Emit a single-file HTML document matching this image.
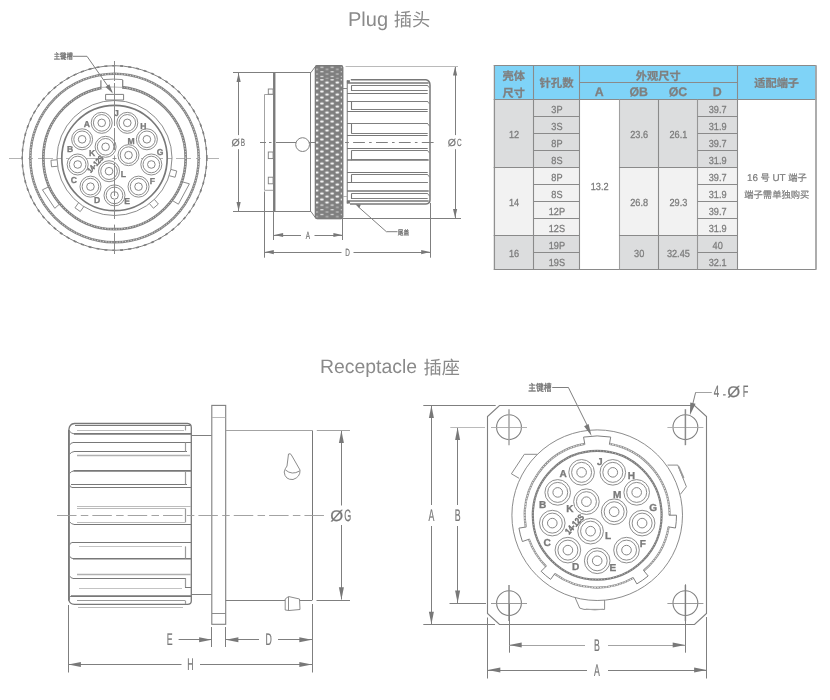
<!DOCTYPE html>
<html lang="zh-CN">
<head>
<meta charset="utf-8">
<title>Plug 插头 / Receptacle 插座</title>
<style>
html,body{margin:0;padding:0;background:#fff;}
body{width:830px;height:700px;overflow:hidden;position:relative;font-family:"Liberation Sans","Noto Sans CJK SC",sans-serif;}
svg{position:absolute;left:0;top:0;display:block;will-change:transform;}
svg text{font-family:"Liberation Sans","Noto Sans CJK SC",sans-serif;text-rendering:geometricPrecision;}
</style>
</head>
<body>
<svg width="830" height="700" viewBox="0 0 830 700">
<defs>
<pattern id="knurl" x="315.4" y="65.7" width="10.3" height="6" patternUnits="userSpaceOnUse">
<rect width="10.3" height="6" fill="#7f7f7f"/>
<ellipse cx="6.5" cy="1.7" rx="1.9" ry="0.95" fill="#fff"/>
<ellipse cx="1.35" cy="4.7" rx="1.9" ry="0.95" fill="#fff"/>
<ellipse cx="11.65" cy="4.7" rx="1.9" ry="0.95" fill="#fff"/>
</pattern>
<pattern id="knurl2" x="315.4" y="65.7" width="10.3" height="4.6" patternUnits="userSpaceOnUse">
<rect width="10.3" height="4.6" fill="#7f7f7f"/>
<rect x="5" y="1.1" width="3" height="0.9" fill="#fff"/>
<rect x="0.2" y="3.3" width="2.4" height="0.8" fill="#e8e8e8"/>
<rect x="10.1" y="3.3" width="0.2" height="0.8" fill="#e8e8e8"/>
</pattern>
</defs>
<text x="348" y="25.6" font-size="20" fill="#8a8a8a" font-weight="normal" text-anchor="start" >Plug</text>
<text x="393.8" y="26" font-size="18.2" fill="#8a8a8a" font-weight="normal" text-anchor="start" font-family='"Liberation Sans","Noto Sans CJK SC",sans-serif' >插头</text>
<text x="320" y="372.9" font-size="19.4" fill="#8a8a8a" font-weight="normal" text-anchor="start" >Receptacle</text>
<text x="423.6" y="373.6" font-size="18.2" fill="#8a8a8a" font-weight="normal" text-anchor="start" font-family='"Liberation Sans","Noto Sans CJK SC",sans-serif' >插座</text>
<line x1="9" y1="158.5" x2="21.5" y2="158.5" stroke="#a0a0a0" stroke-width="0.8"/>
<line x1="28.3" y1="158.5" x2="33" y2="158.5" stroke="#a0a0a0" stroke-width="0.8"/>
<line x1="38" y1="158.5" x2="53" y2="158.5" stroke="#a0a0a0" stroke-width="0.8"/>
<line x1="57" y1="158.5" x2="62" y2="158.5" stroke="#a0a0a0" stroke-width="0.8"/>
<line x1="66" y1="158.5" x2="103" y2="158.5" stroke="#a0a0a0" stroke-width="0.8"/>
<line x1="118" y1="158.5" x2="137" y2="158.5" stroke="#a0a0a0" stroke-width="0.8"/>
<line x1="141" y1="158.5" x2="163" y2="158.5" stroke="#a0a0a0" stroke-width="0.8"/>
<line x1="167" y1="158.5" x2="172" y2="158.5" stroke="#a0a0a0" stroke-width="0.8"/>
<line x1="176" y1="158.5" x2="191" y2="158.5" stroke="#a0a0a0" stroke-width="0.8"/>
<line x1="196" y1="158.5" x2="200.5" y2="158.5" stroke="#a0a0a0" stroke-width="0.8"/>
<line x1="207.5" y1="158.5" x2="219" y2="158.5" stroke="#a0a0a0" stroke-width="0.8"/>
<circle cx="114.5" cy="158" r="92.3" fill="none" stroke="#7f7f7f" stroke-width="1"/>
<circle cx="114.5" cy="158" r="92.3" fill="none" stroke="#7f7f7f" stroke-width="1.6" stroke-dasharray="3 5"/>
<circle cx="114.5" cy="158" r="84.2" fill="none" stroke="#848484" stroke-width="2.5"/>
<circle cx="114.5" cy="158" r="84.2" fill="none" stroke="#fff" stroke-width="0.8" stroke-dasharray="1.1 1.7"/>
<circle cx="114.5" cy="158" r="71.2" fill="none" stroke="#808080" stroke-width="2.7"/>
<circle cx="114.5" cy="158" r="71.2" fill="none" stroke="#fff" stroke-width="0.8" stroke-dasharray="1.1 1.7"/>
<circle cx="114.5" cy="158" r="57.5" fill="none" stroke="#7f7f7f" stroke-width="0.9"/>
<circle cx="114.5" cy="158" r="52.7" fill="none" stroke="#787878" stroke-width="1.7"/>
<rect x="101.4" y="79" width="20.8" height="10.5" fill="#fff"/>
<path d="M99.5 88.2 L100.9 88.2 L100.9 80.3 M122.7 80 L122.7 88 L125.5 88.2" fill="none" stroke="#7f7f7f" stroke-width="1.2" />
<path d="M103.4 79.6 Q114 78.6 122.7 79.6" fill="none" stroke="#7f7f7f" stroke-width="0.9" />
<path d="M101 87.4 Q114 86.6 122.7 87.4" fill="none" stroke="#a8a8a8" stroke-width="0.8" />
<path d="M105.6 100 L105.6 94.4 L123.6 94.4 L123.6 100 Z" fill="none" stroke="#7f7f7f" stroke-width="1" />
<path d="M48.8 186.8 L42.4 189.8 L54.8 208.3 L59.6 204" fill="none" stroke="#7f7f7f" stroke-width="0.9" />
<path d="M180.7 181.4 L189.4 183.8 L178.4 204.2 L172 200.3" fill="none" stroke="#7f7f7f" stroke-width="0.9" />
<path d="M56.94 159.77 L50.96 160.3 L51.52 166.77 L57.5 166.25" fill="none" stroke="#7f7f7f" stroke-width="0.9" />
<path d="M78.46 202.92 L74.98 207.81 L80.27 211.58 L83.76 206.7" fill="none" stroke="#7f7f7f" stroke-width="0.9" />
<path d="M169.29 175.73 L175.1 177.26 L176.75 170.97 L170.94 169.45" fill="none" stroke="#7f7f7f" stroke-width="0.9" />
<path d="M149.53 203.71 L153.44 208.26 L158.37 204.02 L154.46 199.47" fill="none" stroke="#7f7f7f" stroke-width="0.9" />
<circle cx="114.5" cy="195.4" r="10.5" fill="#fff" stroke="#808080" stroke-width="0.9"/>
<circle cx="114.5" cy="195.4" r="8.3" fill="none" stroke="#808080" stroke-width="0.9"/>
<circle cx="114.5" cy="195.4" r="3.8" fill="none" stroke="#808080" stroke-width="0.95"/>
<circle cx="90.46" cy="186.65" r="10.5" fill="#fff" stroke="#808080" stroke-width="0.9"/>
<circle cx="90.46" cy="186.65" r="8.3" fill="none" stroke="#808080" stroke-width="0.9"/>
<circle cx="90.46" cy="186.65" r="3.8" fill="none" stroke="#808080" stroke-width="0.95"/>
<circle cx="77.67" cy="164.49" r="10.5" fill="#fff" stroke="#808080" stroke-width="0.9"/>
<circle cx="77.67" cy="164.49" r="8.3" fill="none" stroke="#808080" stroke-width="0.9"/>
<circle cx="77.67" cy="164.49" r="3.8" fill="none" stroke="#808080" stroke-width="0.95"/>
<circle cx="82.11" cy="139.3" r="10.5" fill="#fff" stroke="#808080" stroke-width="0.9"/>
<circle cx="82.11" cy="139.3" r="8.3" fill="none" stroke="#808080" stroke-width="0.9"/>
<circle cx="82.11" cy="139.3" r="3.8" fill="none" stroke="#808080" stroke-width="0.95"/>
<circle cx="101.71" cy="122.86" r="10.5" fill="#fff" stroke="#808080" stroke-width="0.9"/>
<circle cx="101.71" cy="122.86" r="8.3" fill="none" stroke="#808080" stroke-width="0.9"/>
<circle cx="101.71" cy="122.86" r="3.8" fill="none" stroke="#808080" stroke-width="0.95"/>
<circle cx="127.29" cy="122.86" r="10.5" fill="#fff" stroke="#808080" stroke-width="0.9"/>
<circle cx="127.29" cy="122.86" r="8.3" fill="none" stroke="#808080" stroke-width="0.9"/>
<circle cx="127.29" cy="122.86" r="3.8" fill="none" stroke="#808080" stroke-width="0.95"/>
<circle cx="146.89" cy="139.3" r="10.5" fill="#fff" stroke="#808080" stroke-width="0.9"/>
<circle cx="146.89" cy="139.3" r="8.3" fill="none" stroke="#808080" stroke-width="0.9"/>
<circle cx="146.89" cy="139.3" r="3.8" fill="none" stroke="#808080" stroke-width="0.95"/>
<circle cx="151.33" cy="164.49" r="10.5" fill="#fff" stroke="#808080" stroke-width="0.9"/>
<circle cx="151.33" cy="164.49" r="8.3" fill="none" stroke="#808080" stroke-width="0.9"/>
<circle cx="151.33" cy="164.49" r="3.8" fill="none" stroke="#808080" stroke-width="0.95"/>
<circle cx="138.54" cy="186.65" r="10.5" fill="#fff" stroke="#808080" stroke-width="0.9"/>
<circle cx="138.54" cy="186.65" r="8.3" fill="none" stroke="#808080" stroke-width="0.9"/>
<circle cx="138.54" cy="186.65" r="3.8" fill="none" stroke="#808080" stroke-width="0.95"/>
<circle cx="109.03" cy="171.21" r="10.5" fill="#fff" stroke="#808080" stroke-width="0.9"/>
<circle cx="109.03" cy="171.21" r="8.3" fill="none" stroke="#808080" stroke-width="0.9"/>
<circle cx="109.03" cy="171.21" r="3.8" fill="none" stroke="#808080" stroke-width="0.95"/>
<circle cx="105.6" cy="146.81" r="10.5" fill="#fff" stroke="#808080" stroke-width="0.9"/>
<circle cx="105.6" cy="146.81" r="8.3" fill="none" stroke="#808080" stroke-width="0.9"/>
<circle cx="105.6" cy="146.81" r="3.8" fill="none" stroke="#808080" stroke-width="0.95"/>
<circle cx="128.51" cy="155.15" r="10.5" fill="#fff" stroke="#808080" stroke-width="0.9"/>
<circle cx="128.51" cy="155.15" r="8.3" fill="none" stroke="#808080" stroke-width="0.9"/>
<circle cx="128.51" cy="155.15" r="3.8" fill="none" stroke="#808080" stroke-width="0.95"/>
<text x="86.9" y="126.6" font-size="8.6" fill="#7a7a7a" font-weight="bold" text-anchor="middle" stroke="#7a7a7a" stroke-width="0.3">A</text>
<text x="116.3" y="115.9" font-size="8.6" fill="#7a7a7a" font-weight="bold" text-anchor="middle" stroke="#7a7a7a" stroke-width="0.3">J</text>
<text x="143.3" y="128.5" font-size="8.6" fill="#7a7a7a" font-weight="bold" text-anchor="middle" stroke="#7a7a7a" stroke-width="0.3">H</text>
<text x="131" y="143.9" font-size="8.6" fill="#7a7a7a" font-weight="bold" text-anchor="middle" stroke="#7a7a7a" stroke-width="0.3">M</text>
<text x="160.2" y="154.7" font-size="8.6" fill="#7a7a7a" font-weight="bold" text-anchor="middle" stroke="#7a7a7a" stroke-width="0.3">G</text>
<text x="92.1" y="155.5" font-size="8.6" fill="#7a7a7a" font-weight="bold" text-anchor="middle" stroke="#7a7a7a" stroke-width="0.3">K</text>
<text x="123.3" y="177.4" font-size="8.6" fill="#7a7a7a" font-weight="bold" text-anchor="middle" stroke="#7a7a7a" stroke-width="0.3">L</text>
<text x="152.3" y="183.8" font-size="8.6" fill="#7a7a7a" font-weight="bold" text-anchor="middle" stroke="#7a7a7a" stroke-width="0.3">F</text>
<text x="127.2" y="203.7" font-size="8.6" fill="#7a7a7a" font-weight="bold" text-anchor="middle" stroke="#7a7a7a" stroke-width="0.3">E</text>
<text x="97.2" y="203.1" font-size="8.6" fill="#7a7a7a" font-weight="bold" text-anchor="middle" stroke="#7a7a7a" stroke-width="0.3">D</text>
<text x="73.9" y="182.5" font-size="8.6" fill="#7a7a7a" font-weight="bold" text-anchor="middle" stroke="#7a7a7a" stroke-width="0.3">C</text>
<text x="70" y="151.9" font-size="8.6" fill="#7a7a7a" font-weight="bold" text-anchor="middle" stroke="#7a7a7a" stroke-width="0.3">B</text>
<text x="0" y="0" transform="translate(95.9 164.4) rotate(-48) scale(0.8 1)" font-size="7.74" fill="#707070" font-weight="bold" text-anchor="middle" dominant-baseline="middle" stroke="#707070" stroke-width="0.4">14-12S</text>
<line x1="114.5" y1="61" x2="114.5" y2="81" stroke="#8a8a8a" stroke-width="1"/>
<line x1="114.5" y1="83" x2="114.5" y2="126" stroke="#8a8a8a" stroke-width="1"/>
<line x1="114.5" y1="128" x2="114.5" y2="150" stroke="#8a8a8a" stroke-width="1"/>
<line x1="114.5" y1="163" x2="114.5" y2="196" stroke="#8a8a8a" stroke-width="1"/>
<line x1="114.5" y1="200" x2="114.5" y2="219" stroke="#8a8a8a" stroke-width="1"/>
<line x1="114.5" y1="224.6" x2="114.5" y2="228.6" stroke="#8a8a8a" stroke-width="1"/>
<line x1="114.5" y1="233" x2="114.5" y2="254" stroke="#8a8a8a" stroke-width="1"/>
<line x1="112.5" y1="158.5" x2="116.5" y2="158.5" stroke="#7f7f7f" stroke-width="0.8"/>
<line x1="114.5" y1="155.5" x2="114.5" y2="160.5" stroke="#7f7f7f" stroke-width="0.8"/>
<text x="0" y="0" transform="translate(53.8 59.4) scale(0.79 1)" font-size="8" fill="#707070" font-weight="normal" text-anchor="start" stroke="#707070" stroke-width="0.3">主键槽</text>
<path d="M73 56.3 L87 56.3 L112 92" fill="none" stroke="#7f7f7f" stroke-width="1" />
<polygon points="112.9,93.4 105.49,86.99 109.42,84.24" fill="#787878"/>
<line x1="233" y1="72.5" x2="311" y2="72.5" stroke="#7f7f7f" stroke-width="1"/>
<line x1="233" y1="211.5" x2="274" y2="211.5" stroke="#7f7f7f" stroke-width="1"/>
<line x1="238.5" y1="73" x2="238.5" y2="135.1" stroke="#7f7f7f" stroke-width="1"/>
<line x1="238.5" y1="149.2" x2="238.5" y2="211" stroke="#7f7f7f" stroke-width="1"/>
<polygon points="238.6,72.9 240.7,81.9 236.5,81.9" fill="#787878"/>
<polygon points="238.6,211.1 236.5,202.1 240.7,202.1" fill="#787878"/>
<line x1="274.25" y1="72.7" x2="274.25" y2="211.3" stroke="#7b7b7b" stroke-width="2.4"/>
<line x1="274" y1="72.5" x2="311" y2="72.5" stroke="#7f7f7f" stroke-width="1"/>
<line x1="274" y1="211.5" x2="311" y2="211.5" stroke="#7f7f7f" stroke-width="1"/>
<line x1="310.5" y1="72.7" x2="310.5" y2="211.3" stroke="#7f7f7f" stroke-width="1"/>
<path d="M310.8 72.7 L315.6 66.2 M310.8 211.3 L315.6 218" fill="none" stroke="#7f7f7f" stroke-width="1" />
<path d="M273 94.5 L264.5 94.5 L264.5 190.3 L273 190.3" fill="none" stroke="#999" stroke-width="0.9" />
<rect x="268.3" y="89" width="4.8" height="5.2" fill="#fff" stroke="#7f7f7f" stroke-width="0.9"/>
<rect x="268.3" y="152" width="4.8" height="6.6" fill="#fff" stroke="#7f7f7f" stroke-width="0.9"/>
<rect x="268.3" y="177.2" width="4.8" height="6.6" fill="#fff" stroke="#7f7f7f" stroke-width="0.9"/>
<circle cx="302.6" cy="144.6" r="6.9" fill="#fff" stroke="#7f7f7f" stroke-width="1"/>
<rect x="315.4" y="65.7" width="27.3" height="152.9" rx="1.5" fill="url(#knurl)" stroke="#7e7e7e" stroke-width="1"/>
<rect x="316" y="66.2" width="26.2" height="13" fill="url(#knurl2)"/>
<rect x="316" y="204.8" width="26.2" height="13.3" fill="url(#knurl2)"/>
<rect x="315.4" y="65.7" width="27.3" height="152.9" rx="1.5" fill="none" stroke="#7b7b7b" stroke-width="1.2"/>
<rect x="347" y="80" width="83.4" height="124" rx="3" fill="#fff"/>
<path d="M350.8 79.8 L426 79.8 Q430 80.5 430 85 L430 200 Q430 203.6 426 204 L350 204" fill="none" stroke="#787878" stroke-width="1.5" />
<line x1="347.3" y1="80.5" x2="347.3" y2="203.5" stroke="#979797" stroke-width="1.3"/>
<rect x="346.9" y="80.2" width="3" height="2.6" fill="#787878"/>
<rect x="346.9" y="201" width="3" height="2.6" fill="#787878"/>
<line x1="347" y1="83" x2="428.7" y2="83" stroke="#787878" stroke-width="1.5"/>
<line x1="347" y1="93.5" x2="427.7" y2="93.5" stroke="#787878" stroke-width="1.1"/>
<line x1="347" y1="101.5" x2="427.7" y2="101.5" stroke="#787878" stroke-width="1.1"/>
<line x1="347" y1="111.5" x2="427.7" y2="111.5" stroke="#787878" stroke-width="1.2"/>
<line x1="347" y1="123.5" x2="427.7" y2="123.5" stroke="#787878" stroke-width="1.2"/>
<line x1="347" y1="135.5" x2="427.7" y2="135.5" stroke="#787878" stroke-width="1.1"/>
<line x1="347" y1="148.5" x2="427.7" y2="148.5" stroke="#787878" stroke-width="1.1"/>
<line x1="347" y1="159.9" x2="428.7" y2="159.9" stroke="#787878" stroke-width="1.5"/>
<line x1="347" y1="172.5" x2="427.7" y2="172.5" stroke="#787878" stroke-width="1.1"/>
<line x1="347" y1="182.5" x2="427.7" y2="182.5" stroke="#787878" stroke-width="1.1"/>
<line x1="347" y1="191" x2="428.7" y2="191" stroke="#787878" stroke-width="1.5"/>
<line x1="347" y1="201" x2="428.7" y2="201" stroke="#787878" stroke-width="1.5"/>
<line x1="351.4" y1="85.5" x2="427.7" y2="85.5" stroke="#7f7f7f" stroke-width="1"/>
<line x1="351.4" y1="90.5" x2="427.7" y2="90.5" stroke="#7f7f7f" stroke-width="1"/>
<line x1="351.5" y1="85.4" x2="351.5" y2="90.9" stroke="#787878" stroke-width="1.1"/>
<path d="M427.2 85.5 Q429.2 86.2 429.4 88" fill="none" stroke="#7f7f7f" stroke-width="0.9" />
<line x1="351.4" y1="101.5" x2="427.7" y2="101.5" stroke="#7f7f7f" stroke-width="1"/>
<line x1="351.4" y1="109.5" x2="427.7" y2="109.5" stroke="#7f7f7f" stroke-width="1"/>
<line x1="351.5" y1="101.4" x2="351.5" y2="109.9" stroke="#787878" stroke-width="1.1"/>
<path d="M427.2 101.5 Q429.2 102.2 429.4 104" fill="none" stroke="#7f7f7f" stroke-width="0.9" />
<line x1="351.4" y1="123.5" x2="427.7" y2="123.5" stroke="#7f7f7f" stroke-width="1"/>
<line x1="351.4" y1="133.5" x2="427.7" y2="133.5" stroke="#7f7f7f" stroke-width="1"/>
<line x1="351.5" y1="123.7" x2="351.5" y2="133.6" stroke="#787878" stroke-width="1.1"/>
<path d="M427.2 123.5 Q429.2 124.5 429.4 126.3" fill="none" stroke="#7f7f7f" stroke-width="0.9" />
<line x1="351.4" y1="150.5" x2="427.7" y2="150.5" stroke="#7f7f7f" stroke-width="1"/>
<line x1="351.4" y1="159.5" x2="427.7" y2="159.5" stroke="#7f7f7f" stroke-width="1"/>
<line x1="351.5" y1="150.6" x2="351.5" y2="160.2" stroke="#787878" stroke-width="1.1"/>
<path d="M427.2 150.5 Q429.2 151.4 429.4 153.2" fill="none" stroke="#7f7f7f" stroke-width="0.9" />
<line x1="351.4" y1="174.5" x2="427.7" y2="174.5" stroke="#7f7f7f" stroke-width="1"/>
<line x1="351.4" y1="182.5" x2="427.7" y2="182.5" stroke="#7f7f7f" stroke-width="1"/>
<line x1="351.5" y1="174.6" x2="351.5" y2="183" stroke="#787878" stroke-width="1.1"/>
<path d="M427.2 174.5 Q429.2 175.4 429.4 177.2" fill="none" stroke="#7f7f7f" stroke-width="0.9" />
<line x1="351.4" y1="193.5" x2="427.7" y2="193.5" stroke="#7f7f7f" stroke-width="1"/>
<line x1="351.4" y1="198.5" x2="427.7" y2="198.5" stroke="#7f7f7f" stroke-width="1"/>
<line x1="351.5" y1="193.6" x2="351.5" y2="199" stroke="#787878" stroke-width="1.1"/>
<path d="M427.2 193.5 Q429.2 194.4 429.4 196.2" fill="none" stroke="#7f7f7f" stroke-width="0.9" />
<line x1="342.9" y1="88.5" x2="347" y2="88.5" stroke="#7f7f7f" stroke-width="0.9"/>
<line x1="342.9" y1="196.5" x2="347" y2="196.5" stroke="#a8a8a8" stroke-width="0.8"/>
<line x1="260" y1="142.5" x2="266" y2="142.5" stroke="#7f7f7f" stroke-width="1"/>
<line x1="269" y1="142.5" x2="271.5" y2="142.5" stroke="#7f7f7f" stroke-width="1"/>
<line x1="276" y1="142.5" x2="296" y2="142.5" stroke="#7f7f7f" stroke-width="1"/>
<line x1="309" y1="142.5" x2="315" y2="142.5" stroke="#7f7f7f" stroke-width="1"/>
<line x1="345.1" y1="142.5" x2="348.9" y2="142.5" stroke="#7f7f7f" stroke-width="1"/>
<line x1="353.1" y1="142.5" x2="435" y2="142.5" stroke="#7f7f7f" stroke-width="1" stroke-dasharray="11.8 4.2 2.6 4.3"/>
<line x1="345.6" y1="66.5" x2="458" y2="66.5" stroke="#a8a8a8" stroke-width="0.8"/>
<line x1="342" y1="218.5" x2="461" y2="218.5" stroke="#7f7f7f" stroke-width="1"/>
<line x1="455.5" y1="67" x2="455.5" y2="135.1" stroke="#7f7f7f" stroke-width="1"/>
<line x1="455.5" y1="149.2" x2="455.5" y2="218" stroke="#7f7f7f" stroke-width="1"/>
<polygon points="455.1,66.5 457.2,75.5 453,75.5" fill="#787878"/>
<polygon points="455.1,218.1 453,209.1 457.2,209.1" fill="#787878"/>
<line x1="273.5" y1="212" x2="273.5" y2="240" stroke="#7f7f7f" stroke-width="1"/>
<line x1="342.5" y1="219" x2="342.5" y2="240" stroke="#7f7f7f" stroke-width="1"/>
<line x1="274" y1="235.5" x2="301" y2="235.5" stroke="#7f7f7f" stroke-width="1"/>
<line x1="314.5" y1="235.5" x2="342.6" y2="235.5" stroke="#7f7f7f" stroke-width="1"/>
<polygon points="274.1,235 283.1,232.9 283.1,237.1" fill="#787878"/>
<polygon points="342.4,235 333.4,237.1 333.4,232.9" fill="#787878"/>
<line x1="264.5" y1="191.5" x2="264.5" y2="257.7" stroke="#7f7f7f" stroke-width="1"/>
<line x1="430.5" y1="203" x2="430.5" y2="257.7" stroke="#7f7f7f" stroke-width="1"/>
<line x1="264.6" y1="252.5" x2="341.5" y2="252.5" stroke="#7f7f7f" stroke-width="1"/>
<line x1="353.5" y1="252.5" x2="430.4" y2="252.5" stroke="#7f7f7f" stroke-width="1"/>
<polygon points="264.8,252.1 273.8,250 273.8,254.2" fill="#787878"/>
<polygon points="430.2,252.1 421.2,254.2 421.2,250" fill="#787878"/>
<text x="0" y="0" transform="translate(308 238.8) scale(0.62 1)" font-size="10.4" fill="#787878" font-weight="normal" text-anchor="middle" stroke="#787878" stroke-width="0.22">A</text>
<text x="0" y="0" transform="translate(347.5 255.8) scale(0.62 1)" font-size="10.4" fill="#787878" font-weight="normal" text-anchor="middle" stroke="#787878" stroke-width="0.22">D</text>
<text x="0" y="0" transform="translate(235.63 145.9) scale(1.05 1)" font-size="10.09" fill="#787878" font-weight="normal" text-anchor="middle" stroke="#787878" stroke-width="0.22">Ø</text>
<text x="0" y="0" transform="translate(242.94 146) scale(0.62 1)" font-size="10.4" fill="#787878" font-weight="normal" text-anchor="middle" stroke="#787878" stroke-width="0.22">B</text>
<text x="0" y="0" transform="translate(451.93 145.9) scale(1.05 1)" font-size="10.09" fill="#787878" font-weight="normal" text-anchor="middle" stroke="#787878" stroke-width="0.22">Ø</text>
<text x="0" y="0" transform="translate(459.24 146) scale(0.62 1)" font-size="10.4" fill="#787878" font-weight="normal" text-anchor="middle" stroke="#787878" stroke-width="0.22">C</text>
<path d="M358.5 207 L386.4 231.7 L397.5 231.7" fill="none" stroke="#7f7f7f" stroke-width="1" />
<polygon points="355.3,204.3 360.8,204.6 359.3,208.3" fill="#787878"/>
<text x="0" y="0" transform="translate(397.8 234.6) scale(0.8 1)" font-size="7" fill="#707070" font-weight="normal" text-anchor="start" stroke="#707070" stroke-width="0.3">尾盖</text>
<rect x="494" y="65.4" width="322.3" height="34" fill="#7fd3f7"/>
<rect x="494" y="99.4" width="85.5" height="68" fill="#dcddde"/>
<rect x="619" y="99.4" width="118" height="68" fill="#dcddde"/>
<rect x="494" y="167.4" width="85.5" height="68" fill="#f2f2f2"/>
<rect x="619" y="167.4" width="118" height="68" fill="#f2f2f2"/>
<rect x="494" y="235.4" width="85.5" height="34" fill="#dcddde"/>
<rect x="619" y="235.4" width="118" height="34" fill="#dcddde"/>
<line x1="493.7" y1="65.5" x2="816.3" y2="65.5" stroke="#8a8a8a" stroke-width="1.1"/>
<line x1="493.7" y1="99.5" x2="816.3" y2="99.5" stroke="#8a8a8a" stroke-width="1.1"/>
<line x1="493.7" y1="269.5" x2="816.3" y2="269.5" stroke="#8a8a8a" stroke-width="1.1"/>
<line x1="579.5" y1="82.5" x2="737" y2="82.5" stroke="#8a8a8a" stroke-width="1.1"/>
<line x1="533.5" y1="65.4" x2="533.5" y2="269.4" stroke="#8a8a8a" stroke-width="1.1"/>
<line x1="579.5" y1="65.4" x2="579.5" y2="269.4" stroke="#8a8a8a" stroke-width="1.1"/>
<line x1="737.5" y1="65.4" x2="737.5" y2="269.4" stroke="#8a8a8a" stroke-width="1.1"/>
<line x1="494.4" y1="65.4" x2="494.4" y2="269.4" stroke="#909090" stroke-width="1.3"/>
<line x1="816" y1="65.4" x2="816" y2="269.4" stroke="#a4a4a4" stroke-width="1.8"/>
<line x1="619.5" y1="99.4" x2="619.5" y2="269.4" stroke="#a0a0a0" stroke-width="1.1"/>
<line x1="658.5" y1="99.4" x2="658.5" y2="269.4" stroke="#8a8a8a" stroke-width="1.1"/>
<line x1="697.5" y1="99.4" x2="697.5" y2="269.4" stroke="#969696" stroke-width="1.1"/>
<line x1="533.5" y1="116.5" x2="579.5" y2="116.5" stroke="#8a8a8a" stroke-width="1.1"/>
<line x1="697.5" y1="116.5" x2="737" y2="116.5" stroke="#8a8a8a" stroke-width="1.1"/>
<line x1="533.5" y1="133.5" x2="579.5" y2="133.5" stroke="#8a8a8a" stroke-width="1.1"/>
<line x1="697.5" y1="133.5" x2="737" y2="133.5" stroke="#8a8a8a" stroke-width="1.1"/>
<line x1="533.5" y1="150.5" x2="579.5" y2="150.5" stroke="#8a8a8a" stroke-width="1.1"/>
<line x1="697.5" y1="150.5" x2="737" y2="150.5" stroke="#8a8a8a" stroke-width="1.1"/>
<line x1="533.5" y1="167.5" x2="579.5" y2="167.5" stroke="#8a8a8a" stroke-width="1.1"/>
<line x1="697.5" y1="167.5" x2="737" y2="167.5" stroke="#8a8a8a" stroke-width="1.1"/>
<line x1="533.5" y1="184.5" x2="579.5" y2="184.5" stroke="#8a8a8a" stroke-width="1.1"/>
<line x1="697.5" y1="184.5" x2="737" y2="184.5" stroke="#8a8a8a" stroke-width="1.1"/>
<line x1="533.5" y1="201.5" x2="579.5" y2="201.5" stroke="#8a8a8a" stroke-width="1.1"/>
<line x1="697.5" y1="201.5" x2="737" y2="201.5" stroke="#8a8a8a" stroke-width="1.1"/>
<line x1="533.5" y1="218.5" x2="579.5" y2="218.5" stroke="#8a8a8a" stroke-width="1.1"/>
<line x1="697.5" y1="218.5" x2="737" y2="218.5" stroke="#8a8a8a" stroke-width="1.1"/>
<line x1="533.5" y1="235.5" x2="579.5" y2="235.5" stroke="#8a8a8a" stroke-width="1.1"/>
<line x1="697.5" y1="235.5" x2="737" y2="235.5" stroke="#8a8a8a" stroke-width="1.1"/>
<line x1="533.5" y1="252.5" x2="579.5" y2="252.5" stroke="#8a8a8a" stroke-width="1.1"/>
<line x1="697.5" y1="252.5" x2="737" y2="252.5" stroke="#8a8a8a" stroke-width="1.1"/>
<line x1="493.7" y1="167.5" x2="533.5" y2="167.5" stroke="#8a8a8a" stroke-width="1.1"/>
<line x1="619" y1="167.5" x2="697.5" y2="167.5" stroke="#8a8a8a" stroke-width="1.1"/>
<line x1="493.7" y1="235.5" x2="533.5" y2="235.5" stroke="#8a8a8a" stroke-width="1.1"/>
<line x1="619" y1="235.5" x2="697.5" y2="235.5" stroke="#8a8a8a" stroke-width="1.1"/>
<text x="513.8" y="79.8" font-size="11.2" fill="#7f7f7f" font-weight="bold" text-anchor="middle" stroke="#7f7f7f" stroke-width="0.25">壳体</text>
<text x="513.8" y="96.6" font-size="11.2" fill="#7f7f7f" font-weight="bold" text-anchor="middle" stroke="#7f7f7f" stroke-width="0.25">尺寸</text>
<text x="556.5" y="87.3" font-size="11.4" fill="#7f7f7f" font-weight="bold" text-anchor="middle" stroke="#7f7f7f" stroke-width="0.25">针孔数</text>
<text x="658.25" y="79.6" font-size="11.2" fill="#7f7f7f" font-weight="bold" text-anchor="middle" stroke="#7f7f7f" stroke-width="0.25">外观尺寸</text>
<text x="599.25" y="96.2" font-size="12.4" fill="#7f7f7f" font-weight="bold" text-anchor="middle" stroke="#7f7f7f" stroke-width="0.25">A</text>
<text x="638.75" y="96.2" font-size="12.4" fill="#7f7f7f" font-weight="bold" text-anchor="middle" stroke="#7f7f7f" stroke-width="0.25">ØB</text>
<text x="678" y="96.2" font-size="12.4" fill="#7f7f7f" font-weight="bold" text-anchor="middle" stroke="#7f7f7f" stroke-width="0.25">ØC</text>
<text x="717.25" y="96.2" font-size="12.4" fill="#7f7f7f" font-weight="bold" text-anchor="middle" stroke="#7f7f7f" stroke-width="0.25">D</text>
<text x="776.65" y="87.3" font-size="11.2" fill="#7f7f7f" font-weight="bold" text-anchor="middle" stroke="#7f7f7f" stroke-width="0.25">适配端子</text>
<text x="0" y="0" transform="translate(556.9 112.95) scale(0.89 1)" font-size="10.3" fill="#7c7c7c" font-weight="normal" text-anchor="middle" stroke="#7c7c7c" stroke-width="0.28">3P</text>
<text x="0" y="0" transform="translate(717.65 112.95) scale(0.89 1)" font-size="10.3" fill="#7c7c7c" font-weight="normal" text-anchor="middle" stroke="#7c7c7c" stroke-width="0.28">39.7</text>
<text x="0" y="0" transform="translate(556.9 129.95) scale(0.89 1)" font-size="10.3" fill="#7c7c7c" font-weight="normal" text-anchor="middle" stroke="#7c7c7c" stroke-width="0.28">3S</text>
<text x="0" y="0" transform="translate(717.65 129.95) scale(0.89 1)" font-size="10.3" fill="#7c7c7c" font-weight="normal" text-anchor="middle" stroke="#7c7c7c" stroke-width="0.28">31.9</text>
<text x="0" y="0" transform="translate(556.9 146.95) scale(0.89 1)" font-size="10.3" fill="#7c7c7c" font-weight="normal" text-anchor="middle" stroke="#7c7c7c" stroke-width="0.28">8P</text>
<text x="0" y="0" transform="translate(717.65 146.95) scale(0.89 1)" font-size="10.3" fill="#7c7c7c" font-weight="normal" text-anchor="middle" stroke="#7c7c7c" stroke-width="0.28">39.7</text>
<text x="0" y="0" transform="translate(556.9 163.95) scale(0.89 1)" font-size="10.3" fill="#7c7c7c" font-weight="normal" text-anchor="middle" stroke="#7c7c7c" stroke-width="0.28">8S</text>
<text x="0" y="0" transform="translate(717.65 163.95) scale(0.89 1)" font-size="10.3" fill="#7c7c7c" font-weight="normal" text-anchor="middle" stroke="#7c7c7c" stroke-width="0.28">31.9</text>
<text x="0" y="0" transform="translate(556.9 180.95) scale(0.89 1)" font-size="10.3" fill="#7c7c7c" font-weight="normal" text-anchor="middle" stroke="#7c7c7c" stroke-width="0.28">8P</text>
<text x="0" y="0" transform="translate(717.65 180.95) scale(0.89 1)" font-size="10.3" fill="#7c7c7c" font-weight="normal" text-anchor="middle" stroke="#7c7c7c" stroke-width="0.28">39.7</text>
<text x="0" y="0" transform="translate(556.9 197.95) scale(0.89 1)" font-size="10.3" fill="#7c7c7c" font-weight="normal" text-anchor="middle" stroke="#7c7c7c" stroke-width="0.28">8S</text>
<text x="0" y="0" transform="translate(717.65 197.95) scale(0.89 1)" font-size="10.3" fill="#7c7c7c" font-weight="normal" text-anchor="middle" stroke="#7c7c7c" stroke-width="0.28">31.9</text>
<text x="0" y="0" transform="translate(556.9 214.95) scale(0.89 1)" font-size="10.3" fill="#7c7c7c" font-weight="normal" text-anchor="middle" stroke="#7c7c7c" stroke-width="0.28">12P</text>
<text x="0" y="0" transform="translate(717.65 214.95) scale(0.89 1)" font-size="10.3" fill="#7c7c7c" font-weight="normal" text-anchor="middle" stroke="#7c7c7c" stroke-width="0.28">39.7</text>
<text x="0" y="0" transform="translate(556.9 231.95) scale(0.89 1)" font-size="10.3" fill="#7c7c7c" font-weight="normal" text-anchor="middle" stroke="#7c7c7c" stroke-width="0.28">12S</text>
<text x="0" y="0" transform="translate(717.65 231.95) scale(0.89 1)" font-size="10.3" fill="#7c7c7c" font-weight="normal" text-anchor="middle" stroke="#7c7c7c" stroke-width="0.28">31.9</text>
<text x="0" y="0" transform="translate(556.9 248.95) scale(0.89 1)" font-size="10.3" fill="#7c7c7c" font-weight="normal" text-anchor="middle" stroke="#7c7c7c" stroke-width="0.28">19P</text>
<text x="0" y="0" transform="translate(717.65 248.95) scale(0.89 1)" font-size="10.3" fill="#7c7c7c" font-weight="normal" text-anchor="middle" stroke="#7c7c7c" stroke-width="0.28">40</text>
<text x="0" y="0" transform="translate(556.9 265.95) scale(0.89 1)" font-size="10.3" fill="#7c7c7c" font-weight="normal" text-anchor="middle" stroke="#7c7c7c" stroke-width="0.28">19S</text>
<text x="0" y="0" transform="translate(717.65 265.95) scale(0.89 1)" font-size="10.3" fill="#7c7c7c" font-weight="normal" text-anchor="middle" stroke="#7c7c7c" stroke-width="0.28">32.1</text>
<text x="0" y="0" transform="translate(514 138.45) scale(0.89 1)" font-size="10.3" fill="#7c7c7c" font-weight="normal" text-anchor="middle" stroke="#7c7c7c" stroke-width="0.28">12</text>
<text x="0" y="0" transform="translate(639.15 138.45) scale(0.89 1)" font-size="10.3" fill="#7c7c7c" font-weight="normal" text-anchor="middle" stroke="#7c7c7c" stroke-width="0.28">23.6</text>
<text x="0" y="0" transform="translate(678.4 138.45) scale(0.89 1)" font-size="10.3" fill="#7c7c7c" font-weight="normal" text-anchor="middle" stroke="#7c7c7c" stroke-width="0.28">26.1</text>
<text x="0" y="0" transform="translate(514 206.45) scale(0.89 1)" font-size="10.3" fill="#7c7c7c" font-weight="normal" text-anchor="middle" stroke="#7c7c7c" stroke-width="0.28">14</text>
<text x="0" y="0" transform="translate(639.15 206.45) scale(0.89 1)" font-size="10.3" fill="#7c7c7c" font-weight="normal" text-anchor="middle" stroke="#7c7c7c" stroke-width="0.28">26.8</text>
<text x="0" y="0" transform="translate(678.4 206.45) scale(0.89 1)" font-size="10.3" fill="#7c7c7c" font-weight="normal" text-anchor="middle" stroke="#7c7c7c" stroke-width="0.28">29.3</text>
<text x="0" y="0" transform="translate(514 257.45) scale(0.89 1)" font-size="10.3" fill="#7c7c7c" font-weight="normal" text-anchor="middle" stroke="#7c7c7c" stroke-width="0.28">16</text>
<text x="0" y="0" transform="translate(639.15 257.45) scale(0.89 1)" font-size="10.3" fill="#7c7c7c" font-weight="normal" text-anchor="middle" stroke="#7c7c7c" stroke-width="0.28">30</text>
<text x="0" y="0" transform="translate(678.4 257.45) scale(0.89 1)" font-size="10.3" fill="#7c7c7c" font-weight="normal" text-anchor="middle" stroke="#7c7c7c" stroke-width="0.28">32.45</text>
<text x="0" y="0" transform="translate(599.65 190.45) scale(0.89 1)" font-size="10.3" fill="#7c7c7c" font-weight="normal" text-anchor="middle" stroke="#7c7c7c" stroke-width="0.28">13.2</text>
<text x="776.9" y="181" font-size="9.3" fill="#7c7c7c" font-weight="normal" text-anchor="middle" stroke="#7c7c7c" stroke-width="0.2"><tspan font-size="9.9">16</tspan> 号 <tspan font-size="9.9">UT</tspan> 端子</text>
<text x="776.8" y="198" font-size="9.3" fill="#7c7c7c" font-weight="normal" text-anchor="middle" stroke="#7c7c7c" stroke-width="0.2">端子需单独购买</text>
<rect x="69" y="423.5" width="122.3" height="181" rx="4" fill="#fff"/>
<path d="M68.9 601 L68.9 429.5 Q69.3 424 74.5 423.5 L187.5 423.5 Q191.3 423.8 191.3 427.5 L191.3 601 Q191.2 604.3 187.5 604.4 L74.5 604.4 Q69.5 604 68.9 600" fill="none" stroke="#787878" stroke-width="1.3" />
<line x1="68.9" y1="430" x2="68.9" y2="600.5" stroke="#787878" stroke-width="1.7"/>
<line x1="75" y1="425.5" x2="190" y2="425.5" stroke="#787878" stroke-width="1.1"/>
<line x1="77" y1="430.5" x2="184" y2="430.5" stroke="#b4b4b4" stroke-width="0.9"/>
<line x1="74" y1="433.9" x2="191" y2="433.9" stroke="#787878" stroke-width="1.7"/>
<path d="M74.3 433.9 Q71.5 433.6 69.6 431.3" fill="none" stroke="#7f7f7f" stroke-width="1" />
<line x1="73" y1="442.5" x2="191" y2="442.5" stroke="#787878" stroke-width="1.1"/>
<path d="M73.3 442.5 Q70.5 442.8 69.6 445.1" fill="none" stroke="#7f7f7f" stroke-width="1" />
<line x1="74" y1="451.5" x2="187" y2="451.5" stroke="#787878" stroke-width="1.1"/>
<path d="M74.3 451.5 Q71.5 451.8 69.6 454.1" fill="none" stroke="#7f7f7f" stroke-width="1" />
<line x1="77" y1="455.5" x2="190" y2="455.5" stroke="#b0b0b0" stroke-width="1.3"/>
<line x1="73.6" y1="470.9" x2="191" y2="470.9" stroke="#787878" stroke-width="1.8"/>
<path d="M73.9 470.9 Q71.1 471.2 69.6 473.5" fill="none" stroke="#7f7f7f" stroke-width="1" />
<line x1="71" y1="484.5" x2="187" y2="484.5" stroke="#787878" stroke-width="1.1"/>
<line x1="72" y1="487.5" x2="191" y2="487.5" stroke="#787878" stroke-width="1.1"/>
<path d="M72.3 487.5 Q69.5 487.2 69.6 484.9" fill="none" stroke="#7f7f7f" stroke-width="1" />
<line x1="77" y1="506.5" x2="191" y2="506.5" stroke="#b4b4b4" stroke-width="0.9"/>
<line x1="77" y1="508.5" x2="185" y2="508.5" stroke="#b4b4b4" stroke-width="0.9"/>
<line x1="77" y1="522.5" x2="185" y2="522.5" stroke="#b4b4b4" stroke-width="0.9"/>
<line x1="74" y1="524.5" x2="191" y2="524.5" stroke="#787878" stroke-width="1.1"/>
<path d="M74.3 524.5 Q71.5 524.2 69.6 521.9" fill="none" stroke="#7f7f7f" stroke-width="1" />
<line x1="72" y1="542.5" x2="191" y2="542.5" stroke="#787878" stroke-width="1.2"/>
<path d="M72.3 542.5 Q69.5 542.8 69.6 545.1" fill="none" stroke="#7f7f7f" stroke-width="1" />
<line x1="79" y1="546.5" x2="182" y2="546.5" stroke="#b4b4b4" stroke-width="0.8"/>
<line x1="73" y1="558.7" x2="191" y2="558.7" stroke="#787878" stroke-width="1.6"/>
<path d="M73.3 558.7 Q70.5 558.4 69.6 556.1" fill="none" stroke="#7f7f7f" stroke-width="1" />
<line x1="77" y1="574.5" x2="191" y2="574.5" stroke="#b0b0b0" stroke-width="1.3"/>
<line x1="73" y1="578.5" x2="186" y2="578.5" stroke="#787878" stroke-width="1.1"/>
<path d="M73.3 578.5 Q70.5 578.2 69.6 575.9" fill="none" stroke="#7f7f7f" stroke-width="1" />
<line x1="79" y1="588.5" x2="182" y2="588.5" stroke="#b4b4b4" stroke-width="0.8"/>
<line x1="71" y1="596.1" x2="191" y2="596.1" stroke="#787878" stroke-width="1.7"/>
<path d="M71.3 596.1 Q68.5 596.4 69.6 598.7" fill="none" stroke="#7f7f7f" stroke-width="1" />
<line x1="77" y1="600.5" x2="185" y2="600.5" stroke="#999" stroke-width="1"/>
<line x1="78" y1="607.5" x2="183" y2="607.5" stroke="#b4b4b4" stroke-width="0.9"/>
<line x1="185.5" y1="425.6" x2="185.5" y2="430.4" stroke="#9a9a9a" stroke-width="1.2"/>
<line x1="185.5" y1="442.5" x2="185.5" y2="451.6" stroke="#9a9a9a" stroke-width="1.2"/>
<line x1="185.5" y1="471" x2="185.5" y2="484.4" stroke="#9a9a9a" stroke-width="1.2"/>
<line x1="185.5" y1="508.4" x2="185.5" y2="522.4" stroke="#9a9a9a" stroke-width="1.2"/>
<line x1="185.5" y1="546.4" x2="185.5" y2="558.5" stroke="#9a9a9a" stroke-width="1.2"/>
<line x1="185.5" y1="578.4" x2="185.5" y2="587.5" stroke="#9a9a9a" stroke-width="1.2"/>
<line x1="185.5" y1="600.5" x2="185.5" y2="604" stroke="#9a9a9a" stroke-width="1.2"/>
<line x1="185" y1="587.5" x2="191" y2="587.5" stroke="#787878" stroke-width="1"/>
<line x1="191.8" y1="435.5" x2="211.8" y2="435.5" stroke="#7f7f7f" stroke-width="1"/>
<line x1="191.8" y1="594.5" x2="211.8" y2="594.5" stroke="#7f7f7f" stroke-width="1"/>
<rect x="211.8" y="405.4" width="13.9" height="218.9" fill="#fff" stroke="#7f7f7f" stroke-width="1.1"/>
<line x1="212" y1="417.5" x2="225.5" y2="417.5" stroke="#a8a8a8" stroke-width="0.8"/>
<line x1="212" y1="613.5" x2="225.5" y2="613.5" stroke="#7f7f7f" stroke-width="0.9"/>
<line x1="225.7" y1="430.5" x2="312" y2="430.5" stroke="#999" stroke-width="0.9"/>
<line x1="225.7" y1="600.5" x2="312" y2="600.5" stroke="#7f7f7f" stroke-width="1"/>
<line x1="312.5" y1="430.4" x2="312.5" y2="600.3" stroke="#787878" stroke-width="1"/>
<line x1="312.5" y1="604" x2="312.5" y2="672.5" stroke="#7f7f7f" stroke-width="1"/>
<path d="M288.5 454 Q290.5 452.5 292 456 L300 470 Q300.5 477 293 479.5 Q285 480 284.2 472 Q285 468.5 287 466 Z" fill="#fff" stroke="#7f7f7f" stroke-width="0.9" />
<path d="M285.5 470 Q292 475.5 299.5 471" fill="none" stroke="#7f7f7f" stroke-width="0.9" />
<path d="M285.2 599 L288.5 596.5 L299.5 599 L300 609.5 L289 610.5 L285.2 610 Z" fill="#fff" stroke="#7f7f7f" stroke-width="0.9" />
<path d="M288.5 597 L288.5 610.3" fill="none" stroke="#7f7f7f" stroke-width="0.9" />
<line x1="57" y1="515.5" x2="324.3" y2="515.5" stroke="#999" stroke-width="0.9" stroke-dasharray="19.5 4.3 7.5 4.05"/>
<line x1="316.8" y1="430.5" x2="350" y2="430.5" stroke="#999" stroke-width="0.9"/>
<line x1="316.5" y1="600.5" x2="350" y2="600.5" stroke="#7f7f7f" stroke-width="1"/>
<line x1="341.5" y1="431" x2="341.5" y2="505.5" stroke="#7f7f7f" stroke-width="1"/>
<line x1="341.5" y1="525" x2="341.5" y2="599.5" stroke="#7f7f7f" stroke-width="1"/>
<polygon points="341.4,430.6 343.9,443.1 338.9,443.1" fill="#787878"/>
<polygon points="341.4,599.8 338.9,587.3 343.9,587.3" fill="#787878"/>
<text x="0" y="0" transform="translate(336.79 520.64) scale(1.08 1)" font-size="15.4" fill="#787878" font-weight="normal" text-anchor="middle" stroke="#787878" stroke-width="0.22">Ø</text>
<text x="0" y="0" transform="translate(347.87 520.8) scale(0.55 1)" font-size="16.4" fill="#787878" font-weight="normal" text-anchor="middle" stroke="#787878" stroke-width="0.22">G</text>
<line x1="68.5" y1="605" x2="68.5" y2="672.5" stroke="#7f7f7f" stroke-width="1"/>
<line x1="211.5" y1="627" x2="211.5" y2="647" stroke="#7f7f7f" stroke-width="1"/>
<line x1="225.5" y1="627" x2="225.5" y2="647" stroke="#7f7f7f" stroke-width="1"/>
<line x1="178.6" y1="639.5" x2="211.8" y2="639.5" stroke="#7f7f7f" stroke-width="1"/>
<polygon points="211.6,639.7 199.1,642.2 199.1,637.2" fill="#787878"/>
<line x1="225.7" y1="639.5" x2="259" y2="639.5" stroke="#7f7f7f" stroke-width="1"/>
<line x1="278" y1="639.5" x2="312" y2="639.5" stroke="#7f7f7f" stroke-width="1"/>
<polygon points="225.9,639.7 238.4,637.2 238.4,642.2" fill="#787878"/>
<polygon points="311.8,639.7 299.3,642.2 299.3,637.2" fill="#787878"/>
<line x1="68.2" y1="664.5" x2="181.5" y2="664.5" stroke="#7f7f7f" stroke-width="1"/>
<line x1="200" y1="664.5" x2="312" y2="664.5" stroke="#7f7f7f" stroke-width="1"/>
<polygon points="68.4,664.6 80.9,662.1 80.9,667.1" fill="#787878"/>
<polygon points="311.8,664.6 299.3,667.1 299.3,662.1" fill="#787878"/>
<text x="0" y="0" transform="translate(169.7 645.4) scale(0.52 1)" font-size="16.9" fill="#787878" font-weight="normal" text-anchor="middle" stroke="#787878" stroke-width="0.22">E</text>
<text x="0" y="0" transform="translate(268.6 645.4) scale(0.52 1)" font-size="16.9" fill="#787878" font-weight="normal" text-anchor="middle" stroke="#787878" stroke-width="0.22">D</text>
<text x="0" y="0" transform="translate(190.3 670.3) scale(0.52 1)" font-size="16.9" fill="#787878" font-weight="normal" text-anchor="middle" stroke="#787878" stroke-width="0.22">H</text>
<path d="M499.5 405.5 L694.5 405.5 L706.5 416.5 L706.5 613.5 L694.5 624.5 L499.5 624.5 L487.5 613.5 L487.5 416.5 Z" fill="#fff" stroke="#7f7f7f" stroke-width="1.1" />
<circle cx="509" cy="427.2" r="12.4" fill="none" stroke="#808080" stroke-width="1.1"/>
<line x1="491" y1="427.5" x2="527" y2="427.5" stroke="#a8a8a8" stroke-width="0.9"/>
<line x1="509" y1="409.2" x2="509" y2="445.2" stroke="#a4a4a4" stroke-width="1.5"/>
<circle cx="685.4" cy="427.2" r="12.4" fill="none" stroke="#808080" stroke-width="1.1"/>
<line x1="667.4" y1="427.5" x2="703.4" y2="427.5" stroke="#a8a8a8" stroke-width="0.9"/>
<line x1="685.4" y1="409.2" x2="685.4" y2="445.2" stroke="#8c8c8c" stroke-width="1.5"/>
<circle cx="509" cy="603.1" r="12.4" fill="none" stroke="#808080" stroke-width="1.1"/>
<line x1="491" y1="603.5" x2="527" y2="603.5" stroke="#909090" stroke-width="0.9"/>
<line x1="509" y1="585.1" x2="509" y2="621.1" stroke="#8c8c8c" stroke-width="1.5"/>
<circle cx="685.4" cy="603.1" r="12.4" fill="none" stroke="#808080" stroke-width="1.1"/>
<line x1="667.4" y1="603.5" x2="703.4" y2="603.5" stroke="#909090" stroke-width="0.9"/>
<line x1="685.4" y1="585.1" x2="685.4" y2="621.1" stroke="#8c8c8c" stroke-width="1.5"/>
<path d="M537.1 454.3 L524.3 454.3 L511.4 473.8 L519.1 478.3" fill="#fff" stroke="#7f7f7f" stroke-width="0.9" />
<path d="M667.5 465.1 L677.8 465.1 L686.4 486.7 L680.3 494.4" fill="#fff" stroke="#7f7f7f" stroke-width="0.9" />
<path d="M678.6 466.5 L683.6 478" fill="none" stroke="#999" stroke-width="1.8" />
<path d="M575 597.4 L579.7 608.1 L584 609.4 L604.6 609.4 L604.6 599.6" fill="#fff" stroke="#7f7f7f" stroke-width="0.9" />
<path d="M586 609 Q595 611 603 609.2" fill="none" stroke="#a8a8a8" stroke-width="0.8" />
<circle cx="597.2" cy="515.2" r="85.3" fill="#fff" stroke="#7f7f7f" stroke-width="0.9"/>
<path d="M609.52 443.86 A72.4 72.4 0 0 1 669.6 515.2" fill="none" stroke="#929292" stroke-width="2.2" />
<path d="M609.52 443.86 A72.4 72.4 0 0 1 669.6 515.2" fill="none" stroke="#fff" stroke-width="0.9" stroke-dasharray="1.5 1.3"/>
<path d="M668.65 526.9 A72.4 72.4 0 0 1 643.74 570.66" fill="none" stroke="#929292" stroke-width="2.2" />
<path d="M668.65 526.9 A72.4 72.4 0 0 1 643.74 570.66" fill="none" stroke="#fff" stroke-width="0.9" stroke-dasharray="1.5 1.3"/>
<path d="M633.4 577.9 A72.4 72.4 0 0 1 554.64 573.77" fill="none" stroke="#929292" stroke-width="2.2" />
<path d="M633.4 577.9 A72.4 72.4 0 0 1 554.64 573.77" fill="none" stroke="#fff" stroke-width="0.9" stroke-dasharray="1.5 1.3"/>
<path d="M546.01 566.39 A72.4 72.4 0 0 1 528.91 539.25" fill="none" stroke="#929292" stroke-width="2.2" />
<path d="M546.01 566.39 A72.4 72.4 0 0 1 528.91 539.25" fill="none" stroke="#fff" stroke-width="0.9" stroke-dasharray="1.5 1.3"/>
<path d="M525.77 527.02 A72.4 72.4 0 0 1 584.75 443.88" fill="none" stroke="#929292" stroke-width="2.2" />
<path d="M525.77 527.02 A72.4 72.4 0 0 1 584.75 443.88" fill="none" stroke="#fff" stroke-width="0.9" stroke-dasharray="1.5 1.3"/>
<path d="M584.86 444.47 L583.57 437.08 A79.3 79.3 0 0 1 610.7 437.06 L609.42 444.45" fill="none" stroke="#7f7f7f" stroke-width="1" />
<path d="M669 515.2 L676.5 515.2 A79.3 79.3 0 0 1 675.46 528.02 L668.06 526.8" fill="none" stroke="#7f7f7f" stroke-width="1" />
<path d="M643.35 570.2 L648.17 575.95 A79.3 79.3 0 0 1 636.85 583.88 L633.1 577.38" fill="none" stroke="#7f7f7f" stroke-width="1" />
<path d="M555 573.29 L550.59 579.36 A79.3 79.3 0 0 1 541.13 571.27 L546.43 565.97" fill="none" stroke="#7f7f7f" stroke-width="1" />
<path d="M529.48 539.05 L522.4 541.54 A79.3 79.3 0 0 1 518.96 528.15 L526.36 526.93" fill="none" stroke="#7f7f7f" stroke-width="1" />
<circle cx="597.2" cy="515.2" r="64.4" fill="none" stroke="#7c7c7c" stroke-width="2.2"/>
<circle cx="597.2" cy="515.2" r="64.4" fill="none" stroke="#fff" stroke-width="0.5" stroke-dasharray="1 2"/>
<circle cx="597.2" cy="560.8" r="12.8" fill="#fff" stroke="#808080" stroke-width="0.9"/>
<circle cx="597.2" cy="560.8" r="10" fill="none" stroke="#808080" stroke-width="0.9"/>
<circle cx="597.2" cy="560.8" r="4.8" fill="none" stroke="#808080" stroke-width="0.95"/>
<circle cx="567.89" cy="550.13" r="12.8" fill="#fff" stroke="#808080" stroke-width="0.9"/>
<circle cx="567.89" cy="550.13" r="10" fill="none" stroke="#808080" stroke-width="0.9"/>
<circle cx="567.89" cy="550.13" r="4.8" fill="none" stroke="#808080" stroke-width="0.95"/>
<circle cx="552.29" cy="523.12" r="12.8" fill="#fff" stroke="#808080" stroke-width="0.9"/>
<circle cx="552.29" cy="523.12" r="10" fill="none" stroke="#808080" stroke-width="0.9"/>
<circle cx="552.29" cy="523.12" r="4.8" fill="none" stroke="#808080" stroke-width="0.95"/>
<circle cx="557.71" cy="492.4" r="12.8" fill="#fff" stroke="#808080" stroke-width="0.9"/>
<circle cx="557.71" cy="492.4" r="10" fill="none" stroke="#808080" stroke-width="0.9"/>
<circle cx="557.71" cy="492.4" r="4.8" fill="none" stroke="#808080" stroke-width="0.95"/>
<circle cx="581.6" cy="472.35" r="12.8" fill="#fff" stroke="#808080" stroke-width="0.9"/>
<circle cx="581.6" cy="472.35" r="10" fill="none" stroke="#808080" stroke-width="0.9"/>
<circle cx="581.6" cy="472.35" r="4.8" fill="none" stroke="#808080" stroke-width="0.95"/>
<circle cx="612.8" cy="472.35" r="12.8" fill="#fff" stroke="#808080" stroke-width="0.9"/>
<circle cx="612.8" cy="472.35" r="10" fill="none" stroke="#808080" stroke-width="0.9"/>
<circle cx="612.8" cy="472.35" r="4.8" fill="none" stroke="#808080" stroke-width="0.95"/>
<circle cx="636.69" cy="492.4" r="12.8" fill="#fff" stroke="#808080" stroke-width="0.9"/>
<circle cx="636.69" cy="492.4" r="10" fill="none" stroke="#808080" stroke-width="0.9"/>
<circle cx="636.69" cy="492.4" r="4.8" fill="none" stroke="#808080" stroke-width="0.95"/>
<circle cx="642.11" cy="523.12" r="12.8" fill="#fff" stroke="#808080" stroke-width="0.9"/>
<circle cx="642.11" cy="523.12" r="10" fill="none" stroke="#808080" stroke-width="0.9"/>
<circle cx="642.11" cy="523.12" r="4.8" fill="none" stroke="#808080" stroke-width="0.95"/>
<circle cx="626.51" cy="550.13" r="12.8" fill="#fff" stroke="#808080" stroke-width="0.9"/>
<circle cx="626.51" cy="550.13" r="10" fill="none" stroke="#808080" stroke-width="0.9"/>
<circle cx="626.51" cy="550.13" r="4.8" fill="none" stroke="#808080" stroke-width="0.95"/>
<circle cx="590.58" cy="531.18" r="12.8" fill="#fff" stroke="#808080" stroke-width="0.9"/>
<circle cx="590.58" cy="531.18" r="10" fill="none" stroke="#808080" stroke-width="0.9"/>
<circle cx="590.58" cy="531.18" r="4.8" fill="none" stroke="#808080" stroke-width="0.95"/>
<circle cx="586.43" cy="501.66" r="12.8" fill="#fff" stroke="#808080" stroke-width="0.9"/>
<circle cx="586.43" cy="501.66" r="10" fill="none" stroke="#808080" stroke-width="0.9"/>
<circle cx="586.43" cy="501.66" r="4.8" fill="none" stroke="#808080" stroke-width="0.95"/>
<circle cx="614.15" cy="511.75" r="12.8" fill="#fff" stroke="#808080" stroke-width="0.9"/>
<circle cx="614.15" cy="511.75" r="10" fill="none" stroke="#808080" stroke-width="0.9"/>
<circle cx="614.15" cy="511.75" r="4.8" fill="none" stroke="#808080" stroke-width="0.95"/>
<text x="563.1" y="476.64" font-size="10.1" fill="#7a7a7a" font-weight="bold" text-anchor="middle" stroke="#7a7a7a" stroke-width="0.3">A</text>
<text x="599.7" y="464.64" font-size="10.1" fill="#7a7a7a" font-weight="bold" text-anchor="middle" stroke="#7a7a7a" stroke-width="0.3">J</text>
<text x="631.4" y="479.24" font-size="10.1" fill="#7a7a7a" font-weight="bold" text-anchor="middle" stroke="#7a7a7a" stroke-width="0.3">H</text>
<text x="617.1" y="498.04" font-size="10.1" fill="#7a7a7a" font-weight="bold" text-anchor="middle" stroke="#7a7a7a" stroke-width="0.3">M</text>
<text x="653.1" y="511.44" font-size="10.1" fill="#7a7a7a" font-weight="bold" text-anchor="middle" stroke="#7a7a7a" stroke-width="0.3">G</text>
<text x="570" y="511.74" font-size="10.1" fill="#7a7a7a" font-weight="bold" text-anchor="middle" stroke="#7a7a7a" stroke-width="0.3">K</text>
<text x="608.1" y="538.74" font-size="10.1" fill="#7a7a7a" font-weight="bold" text-anchor="middle" stroke="#7a7a7a" stroke-width="0.3">L</text>
<text x="642.9" y="546.94" font-size="10.1" fill="#7a7a7a" font-weight="bold" text-anchor="middle" stroke="#7a7a7a" stroke-width="0.3">F</text>
<text x="612.9" y="570.94" font-size="10.1" fill="#7a7a7a" font-weight="bold" text-anchor="middle" stroke="#7a7a7a" stroke-width="0.3">E</text>
<text x="575.7" y="570.44" font-size="10.1" fill="#7a7a7a" font-weight="bold" text-anchor="middle" stroke="#7a7a7a" stroke-width="0.3">D</text>
<text x="547.2" y="545.54" font-size="10.1" fill="#7a7a7a" font-weight="bold" text-anchor="middle" stroke="#7a7a7a" stroke-width="0.3">C</text>
<text x="542.6" y="508.34" font-size="10.1" fill="#7a7a7a" font-weight="bold" text-anchor="middle" stroke="#7a7a7a" stroke-width="0.3">B</text>
<text x="0" y="0" transform="translate(575 524.8) rotate(-48) scale(0.8 1)" font-size="9.09" fill="#707070" font-weight="bold" text-anchor="middle" dominant-baseline="middle" stroke="#707070" stroke-width="0.4">14-12S</text>
<line x1="423.3" y1="405.5" x2="495.7" y2="405.5" stroke="#7f7f7f" stroke-width="1"/>
<line x1="423.3" y1="624.5" x2="495" y2="624.5" stroke="#7f7f7f" stroke-width="1"/>
<line x1="431.5" y1="406" x2="431.5" y2="505" stroke="#7f7f7f" stroke-width="1"/>
<line x1="431.5" y1="526" x2="431.5" y2="624" stroke="#7f7f7f" stroke-width="1"/>
<polygon points="431.4,405.6 433.9,418.1 428.9,418.1" fill="#787878"/>
<polygon points="431.4,624.2 428.9,611.7 433.9,611.7" fill="#787878"/>
<line x1="450.3" y1="427.5" x2="485" y2="427.5" stroke="#a8a8a8" stroke-width="0.8"/>
<line x1="449.5" y1="603.5" x2="486" y2="603.5" stroke="#7f7f7f" stroke-width="1"/>
<line x1="457.5" y1="428" x2="457.5" y2="505" stroke="#7f7f7f" stroke-width="1"/>
<line x1="457.5" y1="526" x2="457.5" y2="603" stroke="#7f7f7f" stroke-width="1"/>
<polygon points="457.6,427.4 460.1,439.9 455.1,439.9" fill="#787878"/>
<polygon points="457.6,602.9 455.1,590.4 460.1,590.4" fill="#787878"/>
<text x="0" y="0" transform="translate(431.4 521) scale(0.52 1)" font-size="16.9" fill="#787878" font-weight="normal" text-anchor="middle" stroke="#787878" stroke-width="0.22">A</text>
<text x="0" y="0" transform="translate(457.6 521) scale(0.52 1)" font-size="16.9" fill="#787878" font-weight="normal" text-anchor="middle" stroke="#787878" stroke-width="0.22">B</text>
<line x1="509.5" y1="604" x2="509.5" y2="652.7" stroke="#7f7f7f" stroke-width="1"/>
<line x1="685.5" y1="584.3" x2="685.5" y2="652.7" stroke="#7f7f7f" stroke-width="1"/>
<line x1="509" y1="645.5" x2="585" y2="645.5" stroke="#999" stroke-width="0.9"/>
<line x1="608" y1="645.5" x2="685.4" y2="645.5" stroke="#999" stroke-width="0.9"/>
<polygon points="509.2,645 521.7,642.5 521.7,647.5" fill="#787878"/>
<polygon points="685.2,645 672.7,647.5 672.7,642.5" fill="#787878"/>
<text x="0" y="0" transform="translate(597 650.7) scale(0.52 1)" font-size="16.9" fill="#787878" font-weight="normal" text-anchor="middle" stroke="#787878" stroke-width="0.22">B</text>
<line x1="487.5" y1="617.5" x2="487.5" y2="678.5" stroke="#7f7f7f" stroke-width="1"/>
<line x1="706.5" y1="617" x2="706.5" y2="678.5" stroke="#7f7f7f" stroke-width="1"/>
<line x1="487.6" y1="670.5" x2="587" y2="670.5" stroke="#7f7f7f" stroke-width="1"/>
<line x1="608" y1="670.5" x2="706.8" y2="670.5" stroke="#7f7f7f" stroke-width="1"/>
<polygon points="487.8,670 500.3,667.5 500.3,672.5" fill="#787878"/>
<polygon points="706.6,670 694.1,672.5 694.1,667.5" fill="#787878"/>
<text x="0" y="0" transform="translate(597 675.7) scale(0.52 1)" font-size="16.9" fill="#787878" font-weight="normal" text-anchor="middle" stroke="#787878" stroke-width="0.22">A</text>
<text x="0" y="0" transform="translate(528.3 391) scale(0.81 1)" font-size="9.6" fill="#707070" font-weight="normal" text-anchor="start" stroke="#707070" stroke-width="0.3">主键槽</text>
<line x1="552.2" y1="387.5" x2="568.6" y2="387.5" stroke="#7f7f7f" stroke-width="1"/>
<path d="M568.4 387.5 L588.5 428" fill="none" stroke="#7f7f7f" stroke-width="1" />
<polygon points="591.6,436 584.09,426.31 588.59,424.12" fill="#787878"/>
<line x1="695.4" y1="392.5" x2="711.8" y2="392.5" stroke="#999" stroke-width="0.9"/>
<path d="M695.6 392.5 L692 407" fill="none" stroke="#7f7f7f" stroke-width="1" />
<polygon points="689.9,415.2 690.3,402.42 695.54,403.72" fill="#787878"/>
<text x="0" y="0" transform="translate(716.4 397.1) scale(0.6 1)" font-size="16.4" fill="#787878" font-weight="normal" text-anchor="middle" stroke="#787878" stroke-width="0.22">4</text>
<text x="0" y="0" transform="translate(724.3 397.6) scale(0.8 1)" font-size="12" fill="#787878" font-weight="normal" text-anchor="middle" stroke="#787878" stroke-width="0.22">-</text>
<text x="0" y="0" transform="translate(733.6 397.1) scale(1.08 1)" font-size="15.4" fill="#787878" font-weight="normal" text-anchor="middle" stroke="#787878" stroke-width="0.22">Ø</text>
<text x="0" y="0" transform="translate(745.6 397.1) scale(0.56 1)" font-size="16.4" fill="#787878" font-weight="normal" text-anchor="middle" stroke="#787878" stroke-width="0.22">F</text>
</svg>
</body>
</html>
